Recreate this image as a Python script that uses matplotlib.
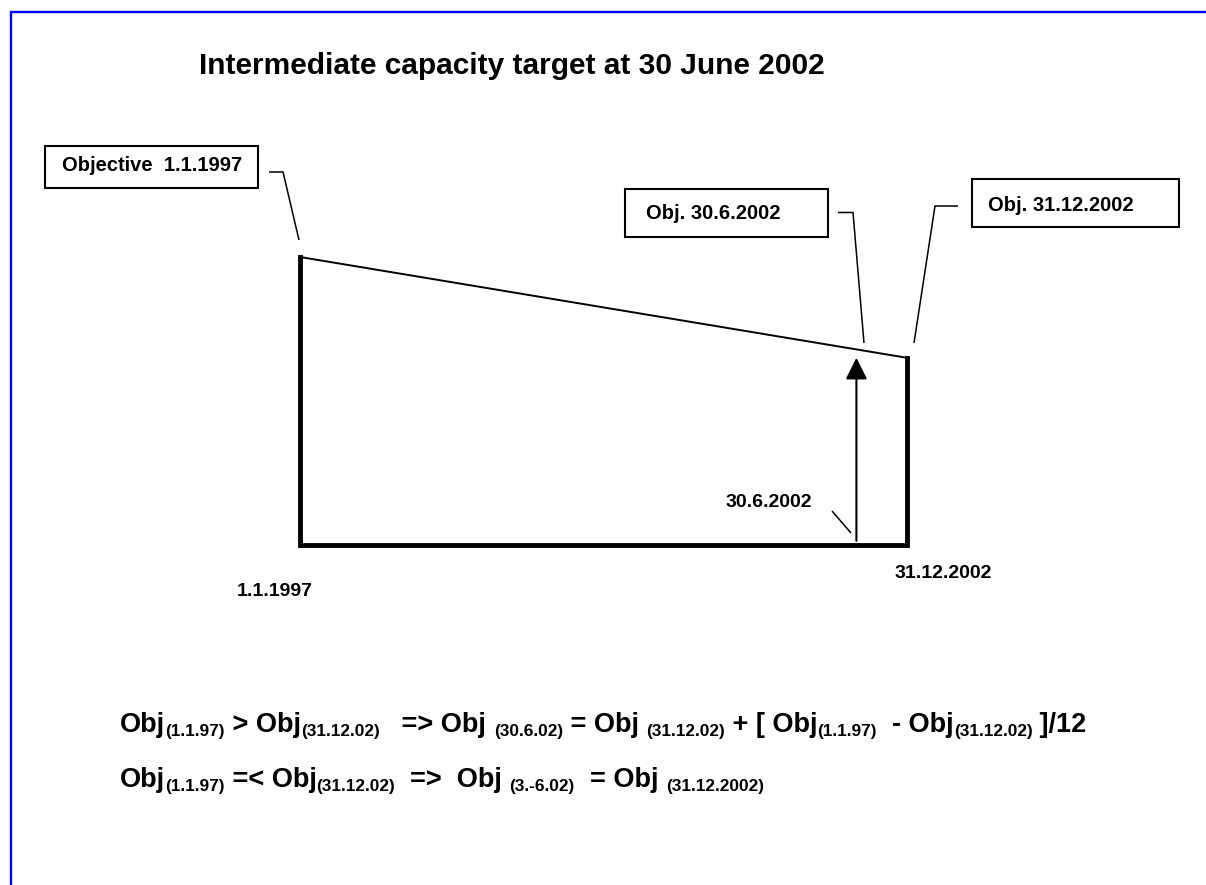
import matplotlib
matplotlib.use('Agg')
import matplotlib.pyplot as plt
from matplotlib.patches import Rectangle
from matplotlib.lines import Line2D

plt.rcParams['font.family'] = ['Liberation Sans', 'DejaVu Sans']
plt.rcParams['font.weight'] = 'bold'

# Data: time axis (years) and capacity objectives (relative units)
date_labels = ['1.1.1997', '30.6.2002', '31.12.2002']
t_points = [1997.0, 2002.5, 2003.0]
obj_start = 100.0   # objective 1.1.1997
obj_end = 65.0      # objective 31.12.2002
obj_mid = obj_end + (obj_start - obj_end) / 12   # objective 30.6.2002

box_labels = ['Objective  1.1.1997', 'Obj. 30.6.2002', 'Obj. 31.12.2002']
title = 'Intermediate capacity target at 30 June 2002'

W, H = 1206, 885
fig = plt.figure(figsize=(W / 100, H / 100), dpi=100)


def fx(x):
    return x / W


def fy(y):
    return 1 - y / H


def fline(xs, ys, lw=1.1, color='black'):
    fig.add_artist(Line2D([fx(x) for x in xs], [fy(y) for y in ys],
                          transform=fig.transFigure, lw=lw, color=color,
                          solid_joinstyle='miter', solid_capstyle='butt'))


def fbox(x0, y0, x1, y1):
    fig.add_artist(Rectangle((fx(x0), fy(y1)), fx(x1) - fx(x0), fy(y0) - fy(y1),
                             transform=fig.transFigure, fill=False,
                             lw=1.5, edgecolor='black'))


# blue frame
fline([11, 11, W + 5], [H + 5, 12, 12], lw=1.7, color='#0000FF')

# title
fig.text(fx(199), fy(74), title, fontsize=21.5, ha='left', va='baseline')

# main diagram
ax = fig.add_axes([300 / W, 1 - 545 / H, 607 / W, 288 / H])
ax.set_xlim(t_points[0], t_points[2])
ax.set_ylim(0, 100)
ax.axis('off')

ax.plot([t_points[0], t_points[0], t_points[2], t_points[2]],
        [obj_start, 0, 0, obj_end], color='black', lw=3.5,
        clip_on=False, solid_joinstyle='miter')
ax.plot([t_points[0], t_points[2]], [obj_start, obj_end], color='black',
        lw=1.4, clip_on=False)
ax.annotate('', xy=(t_points[1], obj_mid), xytext=(t_points[1], 0),
            arrowprops=dict(arrowstyle='-|>,head_length=0.6,head_width=0.3',
                            mutation_scale=22, lw=1.5, color='black',
                            shrinkA=3, shrinkB=6), annotation_clip=False)

# boxes with leaders
fbox(45, 146, 258, 188)
fig.text(fx(62), fy(171), box_labels[0], fontsize=14.5, va='baseline')
fline([269, 283, 299], [172, 172, 240])

fbox(625, 189, 828, 237)
fig.text(fx(646), fy(219), box_labels[1], fontsize=14.5, va='baseline')
fline([838, 853, 864], [212.5, 212.5, 343])

fbox(972, 179, 1179, 227)
fig.text(fx(988), fy(211), box_labels[2], fontsize=14.5, va='baseline')
fline([958, 935, 914], [206, 206, 343])

# date labels
fig.text(fx(237), fy(596), date_labels[0], fontsize=14, va='baseline')
fig.text(fx(812), fy(507), date_labels[1], fontsize=14, ha='right', va='baseline')
fline([832, 851], [511, 533])
fig.text(fx(895), fy(578), date_labels[2], fontsize=14, va='baseline')

# formulas
M, S = 19.5, 12.4
line1 = [('Obj', M), ('(1.1.97)', S), (' > Obj', M), ('(31.12.02)', S),
         ('   => Obj ', M), ('(30.6.02)', S), (' = Obj ', M), ('(31.12.02)', S),
         (' + [ Obj', M), ('(1.1.97)', S), ('  - Obj', M), ('(31.12.02)', S),
         (' ]/12', M)]
line2 = [('Obj', M), ('(1.1.97)', S), (' =< Obj', M), ('(31.12.02)', S),
         ('  =>  Obj ', M), ('(3.-6.02)', S), ('  = Obj ', M),
         ('(31.12.2002)', S)]

renderer = fig.canvas.get_renderer()


def draw_formula(parts, x0, base):
    x = x0
    for s, size in parts:
        dy = 4 if size == S else 0
        t = fig.text(fx(x), fy(base + dy), s, fontsize=size, va='baseline')
        w, h, d = renderer.get_text_width_height_descent(
            s, t.get_fontproperties(), ismath=False)
        x += w


draw_formula(line1, 120, 732)
draw_formula(line2, 120, 787)

fig.savefig('out.png', dpi=100, facecolor='white')
